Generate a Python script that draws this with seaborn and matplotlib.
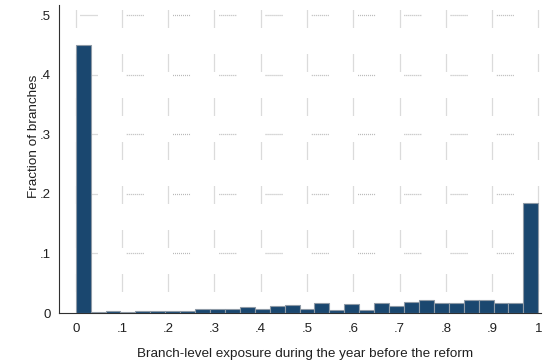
import numpy as np
import pandas as pd
import matplotlib
matplotlib.use("Agg")
import matplotlib.pyplot as plt
import seaborn as sns

# Share of branches in each exposure bin (31 equal-width bins on [0, 1])
exposure_fraction = [
    0.449, 0.001, 0.004, 0.001, 0.004, 0.003, 0.003, 0.003,
    0.006, 0.006, 0.006, 0.010, 0.006, 0.012, 0.014, 0.0075,
    0.016, 0.005, 0.0145, 0.005, 0.016, 0.012, 0.0185, 0.022,
    0.016, 0.016, 0.021, 0.021, 0.0165, 0.0165, 0.184,
]
n_bins = 31
x_ticks = [0, .1, .2, .3, .4, .5, .6, .7, .8, .9, 1]
x_tick_labels = ["0", ".1", ".2", ".3", ".4", ".5", ".6", ".7", ".8", ".9", "1"]
y_ticks = [0, .1, .2, .3, .4, .5]
y_tick_labels = ["0", ".1", ".2", ".3", ".4", ".5"]
x_label = "Branch-level exposure during the year before the reform"
y_label = "Fraction of branches"

sns.set_style("white")
plt.rcParams["font.family"] = ["Liberation Sans", "DejaVu Sans"]
plt.rcParams["lines.scale_dashes"] = False

W, H, DPI = 544, 360, 100
fig = plt.figure(figsize=(W / DPI, H / DPI), dpi=DPI)

# plot region in pixels
left_px, right_px, top_px, bottom_px = 59, 541, 5, 313
ax_w, ax_h = right_px - left_px, bottom_px - top_px
ax = fig.add_axes([left_px / W, (H - bottom_px) / H, ax_w / W, ax_h / H])

x_scale = 462.6   # pixels per unit on x
y_scale = 596.0   # pixels per unit on y
x0_px = 75.7

edges = np.linspace(0, 1, n_bins + 1)
df = pd.DataFrame({"exposure": (edges[:-1] + edges[1:]) / 2,
                   "fraction": exposure_fraction})
sns.histplot(data=df, x="exposure", weights="fraction", bins=n_bins,
             binrange=(0, 1), stat="count",
             color="#1a476f", edgecolor="#8e9aa6", linewidth=0.8, alpha=1,
             ax=ax, zorder=3)

ax.set_xlim((left_px - x0_px) / x_scale, (right_px - x0_px) / x_scale)
ax.set_ylim(0, ax_h / y_scale)

# broken dotted grid
px = 72.0 / DPI
dot = [px, px]
grid_col = "#b8b8b8"
v_dash = dot * 8 + [px, 27 * px]
h_dash = dot * 8 + [px, 29.26 * px]
y_top = (bottom_px - 10) / y_scale
for xv in x_ticks:
    ln, = ax.plot([xv, xv], [y_top, 0], color=grid_col, lw=0.9, zorder=1)
    ln.set_dashes(v_dash)
for yv in y_ticks[1:]:
    ln, = ax.plot([0, 1.0], [yv, yv], color=grid_col, lw=0.9, zorder=1)
    ln.set_linestyle((42.26 * px, h_dash))

ax.set_xticks(x_ticks)
ax.set_xticklabels(x_tick_labels)
ax.set_yticks(y_ticks)
ax.set_yticklabels(y_tick_labels)
ax.tick_params(axis="both", direction="out", length=4.2, width=0.8,
               color="#303030", labelsize=9.5, labelcolor="#202020", pad=2)
ax.tick_params(axis="y", pad=1.5)
ax.tick_params(axis="x", pad=3)

for side in ["top", "right"]:
    ax.spines[side].set_visible(False)
for side in ["left", "bottom"]:
    ax.spines[side].set_color("#303030")
    ax.spines[side].set_linewidth(0.8)

ax.set_xlabel(x_label, fontsize=9.7, color="#202020")
ax.set_ylabel(y_label, fontsize=9.7, color="#202020")
ax.xaxis.set_label_coords((305 - left_px) / ax_w, (bottom_px - 347.5) / ax_h)
ax.yaxis.set_label_coords((40 - left_px) / ax_w, (bottom_px - 136) / ax_h)

fig.savefig("out.png", dpi=DPI)
